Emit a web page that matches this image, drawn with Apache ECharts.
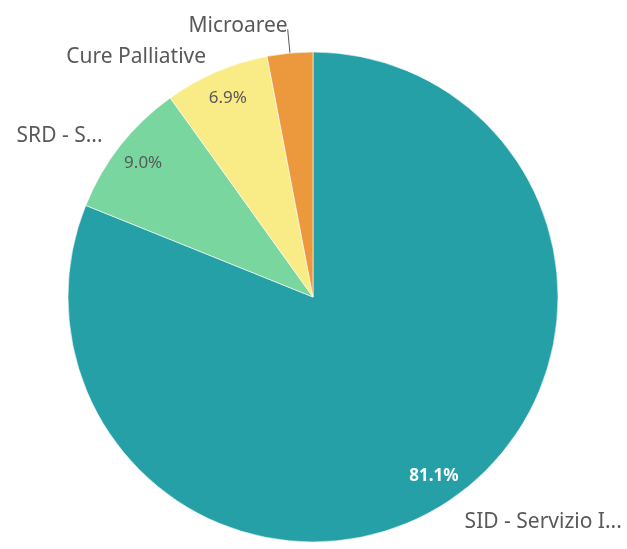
<!DOCTYPE html>
<html>
<head>
<meta charset="utf-8">
<script src="https://cdn.jsdelivr.net/npm/echarts@6/dist/echarts.min.js"></script>
<style>
html,body{margin:0;padding:0;background:#fff;}
#c{width:627px;height:549px;}
</style>
</head>
<body>
<div id="c"></div>
<script>
const categories = ['SID - Servizio I...', 'SRD - S...', 'Cure Palliative', 'Microaree'];
const values = [81.1, 9.0, 6.9, 3.0];
const colors = ['#26A0A7', '#79D69F', '#F9EC86', '#EC983D'];

const FONT = '"Noto Sans", "Open Sans", sans-serif';
const CENTER = [313, 297];
const R = 245;

// per-slice outside name label tuning
const lineLen = [26, 15, 16, 24];
const lineLen2 = [0, 6, 4, 0];

const mainData = categories.map((name, i) => ({
  name: name,
  value: values[i],
  itemStyle: { color: colors[i] },
  labelLine: {
    show: i === 3,
    length: lineLen[i],
    length2: lineLen2[i],
    lineStyle: { color: '#595959', width: 1 }
  },
  label: i === 3 ? { formatter: '{b}\n', lineHeight: 6 } : {}
}));

const pctData = categories.map((name, i) => ({
  name: name,
  value: values[i],
  label: {
    show: i !== 3,
    color: i === 0 ? '#ffffff' : '#595959',
    fontWeight: i === 0 ? 'bold' : 'normal'
  }
}));

const chart = echarts.init(document.getElementById('c'), null, { renderer: 'canvas' });
chart.setOption({
  backgroundColor: '#ffffff',
  animation: false,
  series: [
    {
      type: 'pie',
      center: CENTER,
      radius: [0, R],
      startAngle: 90,
      clockwise: true,
      avoidLabelOverlap: false,
      silent: true,
      itemStyle: { borderColor: '#ffffff', borderWidth: 0.6 },
      label: {
        show: true,
        position: 'outside',
        formatter: '{b}',
        color: '#595959',
        fontFamily: FONT,
        fontSize: 21,
        distanceToLabelLine: 0
      },
      emphasis: { disabled: true },
      data: mainData
    },
    {
      type: 'pie',
      center: CENTER,
      radius: [181, R],
      startAngle: 90,
      clockwise: true,
      avoidLabelOverlap: false,
      silent: true,
      itemStyle: { color: 'rgba(0,0,0,0)', borderWidth: 0 },
      label: {
        show: true,
        position: 'inside',
        formatter: p => p.value.toFixed(1) + '%',
        fontFamily: FONT,
        fontSize: 17
      },
      labelLine: { show: false },
      emphasis: { disabled: true },
      data: pctData
    }
  ]
});
</script>
</body>
</html>
